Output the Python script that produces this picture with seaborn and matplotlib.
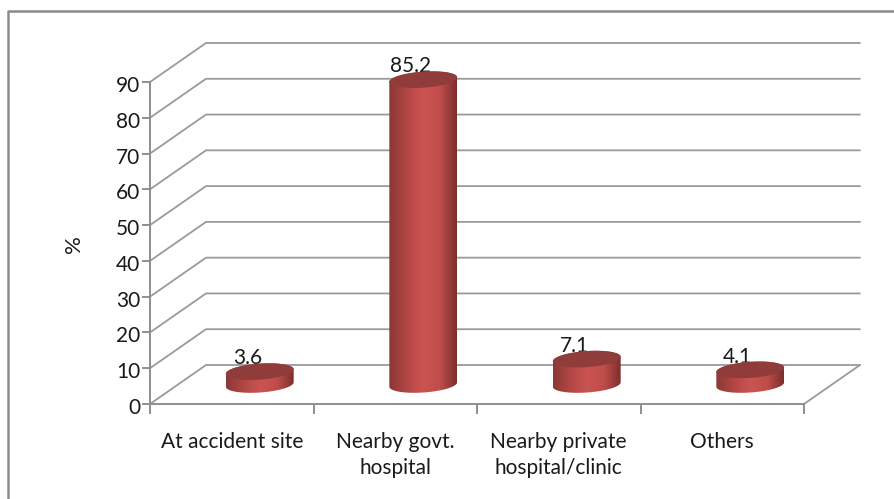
"""Cylinder style bar chart of where first treatment was given."""
import numpy as np
import matplotlib
matplotlib.use("Agg")
import matplotlib.pyplot as plt
import seaborn as sns
from matplotlib.colors import LinearSegmentedColormap
from matplotlib.lines import Line2D
from matplotlib.patches import PathPatch, Polygon
from matplotlib.path import Path
from matplotlib.transforms import ScaledTranslation

CATEGORIES = ["At accident site", "Nearby govt.\nhospital", "Nearby private\nhospital/clinic", "Others"]
VALUES = [3.6, 85.2, 7.1, 4.1]
Y_TICKS = [0, 10, 20, 30, 40, 50, 60, 70, 80, 90]
Y_LABEL = "%"

WIDTH = 894
HEIGHT = 499
FRONT_LEFT = 150
FRONT_RIGHT = 804
FRONT_BOTTOM = 404
FRONT_TOP = 82
DEPTH_X = 56
DEPTH_Y = 39
PAD_UNITS = 6

LINE_GREY = "#9a9a9a"
AXIS_GREY = "#8e8e8e"
FRAME_GREY = "#8a8a8a"
TEXT = "#1a1a1a"
TOP_RED = "#8f3c3a"
BODY = LinearSegmentedColormap.from_list(
    "body", ["#8a3836", "#b04644", "#cb5452", "#c04d4b", "#7c2f2d"]
)


def _ellipse(cx, cy, t, px_x, px_y):
    a, b, tilt = 34.0, 8.0, np.radians(4)
    ex = a * np.cos(t) * np.cos(tilt) - b * np.sin(t) * np.sin(tilt)
    ey = a * np.cos(t) * np.sin(tilt) + b * np.sin(t) * np.cos(tilt)
    return np.column_stack([cx + ex / px_x, cy + ey / px_y])


def _cylinders(ax, px_x, px_y):
    for patch in list(ax.patches):
        cx = patch.get_x() + patch.get_width() / 2
        top = patch.get_height()
        body = np.vstack([
            _ellipse(cx, 0, np.linspace(np.pi, 2 * np.pi, 60), px_x, px_y),
            _ellipse(cx, top, np.linspace(0, np.pi, 60), px_x, px_y),
        ])
        image = ax.imshow(
            np.linspace(0, 1, 128).reshape(1, -1), cmap=BODY, aspect="auto", zorder=3,
            extent=(body[:, 0].min(), body[:, 0].max(), body[:, 1].min(), body[:, 1].max()),
        )
        image.set_clip_path(PathPatch(Path(body), transform=ax.transData))
        lid = _ellipse(cx, top, np.linspace(0, 2 * np.pi, 120), px_x, px_y)
        ax.add_patch(Polygon(lid, closed=True, facecolor=TOP_RED, edgecolor="none", zorder=4))
        patch.set_visible(False)


def main():
    sns.set_theme(style="white")
    plt.rcParams["font.family"] = ["Lato", "DejaVu Sans"]

    fig = plt.figure(figsize=(WIDTH / 100, HEIGHT / 100), dpi=100)
    ax = fig.add_axes([
        FRONT_LEFT / WIDTH, (HEIGHT - FRONT_BOTTOM) / HEIGHT,
        (FRONT_RIGHT - FRONT_LEFT) / WIDTH, (FRONT_BOTTOM - FRONT_TOP) / HEIGHT,
    ])
    ax.set_xlim(-0.5, 3.5)
    ax.set_ylim(0, 90)
    ax.patch.set_alpha(0)
    px_x = (FRONT_RIGHT - FRONT_LEFT) / 4
    px_y = (FRONT_BOTTOM - FRONT_TOP) / 90
    depth_x = DEPTH_X / px_x
    depth_y = DEPTH_Y / px_y

    for tick in Y_TICKS:
        ax.plot([-0.5, -0.5 + depth_x, 3.5 + depth_x], [tick, tick + depth_y, tick + depth_y],
                color=LINE_GREY, lw=1.3, clip_on=False, zorder=1)
    ax.plot([3.5, 3.5 + depth_x], [0, depth_y], color=LINE_GREY, lw=1.3, clip_on=False, zorder=1)

    sns.despine(ax=ax, top=True, right=True)
    for side in ("left", "bottom"):
        ax.spines[side].set_color(AXIS_GREY)
        ax.spines[side].set_linewidth(1.4)
    ax.set_yticks(Y_TICKS)
    ax.set_xticks(range(len(CATEGORIES)))
    ax.set_xticklabels(CATEGORIES, linespacing=1.4)
    ax.set_xticks(np.arange(-0.5, 4), minor=True)
    ax.tick_params(axis="x", which="major", length=0, pad=20, labelsize=15, labelcolor=TEXT)
    ax.tick_params(axis="x", which="minor", length=7, width=1.4, color=AXIS_GREY, bottom=True)
    ax.tick_params(axis="y", length=6, width=1.4, color=AXIS_GREY, left=True, pad=1,
                   labelsize=15, labelcolor=TEXT)
    nudge = ScaledTranslation(0, -2 / 100, fig.dpi_scale_trans)
    for label in ax.get_yticklabels():
        label.set_transform(label.get_transform() + nudge)
    fig.text(74 / WIDTH, (HEIGHT - 244) / HEIGHT, Y_LABEL, rotation=90, ha="center", va="center",
             fontsize=16, color=TEXT)

    # the bars stand half way into the floor, so they get their own shifted axes
    bar_bottom = FRONT_BOTTOM - DEPTH_Y / 2 + PAD_UNITS * px_y
    ax_bars = fig.add_axes([
        (FRONT_LEFT + DEPTH_X / 2) / WIDTH, (HEIGHT - bar_bottom) / HEIGHT,
        (FRONT_RIGHT - FRONT_LEFT) / WIDTH, (90 + 2 * PAD_UNITS) * px_y / HEIGHT,
    ])
    sns.barplot(x=CATEGORIES, y=VALUES, color="#c04d4b", saturation=1, width=0.416, ax=ax_bars)
    for index, value in enumerate(VALUES):
        ax_bars.annotate(f"{value}", (index, value), xytext=(-9, 9.5),
                         textcoords="offset points", ha="center", va="center",
                         fontsize=15, color=TEXT, zorder=2, annotation_clip=False)
    _cylinders(ax_bars, px_x, px_y)
    ax_bars.set_xlim(-0.5, 3.5)
    ax_bars.set_ylim(-PAD_UNITS, 90 + PAD_UNITS)
    ax_bars.axis("off")

    fig.add_artist(Line2D([8 / WIDTH, 8 / WIDTH, 1], [0, 1 - 11 / HEIGHT, 1 - 11 / HEIGHT],
                          color=FRAME_GREY, lw=1.8))
    fig.savefig("out.png", dpi=100)


if __name__ == "__main__":
    main()
